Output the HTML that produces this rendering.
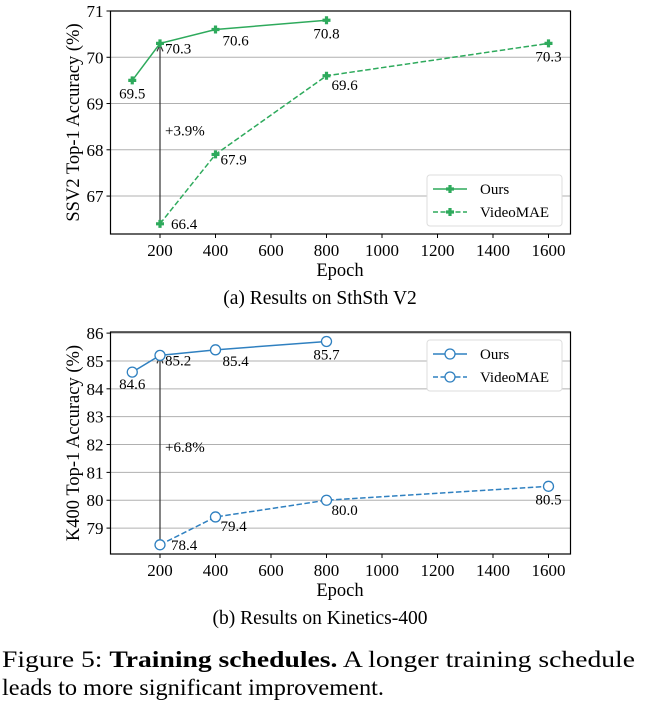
<!DOCTYPE html>
<html><head><meta charset="utf-8"><style>
html,body{margin:0;padding:0;background:#fff;}
svg, svg text{font-family:"Liberation Serif","Times New Roman",Times,serif;}
</style></head><body>
<svg id="fig" width="646" height="702" viewBox="0 0 646 702" font-family="Liberation Serif, Times New Roman, serif"></svg>
<script>
const epochsOurs = [100, 200, 400, 800];
const epochsMae = [200, 400, 800, 1600];
const ssvOurs = [69.5, 70.3, 70.6, 70.8];
const ssvMae = [66.4, 67.9, 69.6, 70.3];
const k400Ours = [84.6, 85.2, 85.4, 85.7];
const k400Mae = [78.4, 79.4, 80.0, 80.5];
const xTicks = [200, 400, 600, 800, 1000, 1200, 1400, 1600];
const ssvTicks = [67, 68, 69, 70, 71];
const k400Ticks = [79, 80, 81, 82, 83, 84, 85, 86];

const NS = "http://www.w3.org/2000/svg";
const svg = document.getElementById('fig');
function mk(tag, attrs, parent, text){
  const e = document.createElementNS(NS, tag);
  for (const k in attrs) e.setAttribute(k, attrs[k]);
  if (tag === 'text') e.setAttribute('font-family', 'Liberation Serif, Times New Roman, serif');
  if (text !== undefined) e.textContent = text;
  (parent || svg).appendChild(e);
  return e;
}
const L = 110.5, R = 570.5;
const xs = v => 104.5 + v * 0.2775;

function plusMarker(g, cx, cy, color){
  const p = mk('path', {d:`M${cx-1.6},${cy-4}h3.2v2.4h2.4v3.2h-2.4v2.4h-3.2v-2.4h-2.4v-3.2h2.4z`, fill:color}, g);
  
  
}
function circleMarker(g, cx, cy, color){
  const c = mk('circle', {cx, cy, r:5, fill:'#fff', stroke:color, 'stroke-width':1.3}, g);
  
  
}

function panel(opt){
  const {top, bottom, ymin, ymax, ticks, ours, mae, color, marker, ylabel, caption, gain, legendY, labelOffsOurs, labelOffsMae, name} = opt;
  const g = mk('g', {});
  
  
  const ys = v => bottom - (v - ymin) / (ymax - ymin) * (bottom - top);
  ticks.forEach(t => {
    const y = ys(t);
    const gl = mk('line', {x1:L, x2:R, y1:y, y2:y, stroke:'#b0b0b0', 'stroke-width':1}, g);
    
    
    mk('line', {x1:L-4, x2:L, y1:y, y2:y, stroke:'#000'}, g);
    const tl = mk('text', {x:L-7, y:y+6, 'text-anchor':'end', 'font-size':17}, g, String(t));
    
    
  });
  xTicks.forEach(t => {
    const x = xs(t);
    mk('line', {x1:x, x2:x, y1:bottom, y2:bottom+4, stroke:'#000'}, g);
    const tl = mk('text', {x:x, y:bottom+22, 'text-anchor':'middle', 'font-size':17}, g, String(t));
    
    
  });
  const ax = xs(200);
  mk('line', {x1:ax, x2:ax, y1:ys(mae[0]), y2:ys(ours[1])+2, stroke:'#333', 'stroke-width':1.2}, g);
  mk('path', {d:`M${ax-3},${ys(ours[1])+8} L${ax},${ys(ours[1])+1} L${ax+3},${ys(ours[1])+8}`, fill:'none', stroke:'#333', 'stroke-width':1.2}, g);
  const gt = mk('text', {x:ax+5, y:(ys(mae[0])+ys(ours[1]))/2+2, 'font-size':15}, g, gain);
  
  
  const lo = mk('polyline', {points: epochsOurs.map((e,i)=>xs(e)+','+ys(ours[i])).join(' '), fill:'none', stroke:color, 'stroke-width':1.5}, g);
  
  
  const lm = mk('polyline', {points: epochsMae.map((e,i)=>xs(e)+','+ys(mae[i])).join(' '), fill:'none', stroke:color, 'stroke-width':1.5, 'stroke-dasharray':'5.5,2.5'}, g);
  
  
  epochsOurs.forEach((e,i)=>{
    marker(g, xs(e), ys(ours[i]), color);
    const o = labelOffsOurs[i];
    const t = mk('text', {x:xs(e)+o[0], y:ys(ours[i])+o[1], 'font-size':15, 'text-anchor':o[2]||'start'}, g, ours[i].toFixed(1));
    
    
  });
  epochsMae.forEach((e,i)=>{
    marker(g, xs(e), ys(mae[i]), color);
    const o = labelOffsMae[i];
    const t = mk('text', {x:xs(e)+o[0], y:ys(mae[i])+o[1], 'font-size':15, 'text-anchor':o[2]||'start'}, g, mae[i].toFixed(1));
    
    
  });
  const fr = mk('rect', {x:L, y:top, width:R-L, height:bottom-top, fill:'none', stroke:'#000', 'stroke-width':1.2}, g);
  
  
  const lg = mk('g', {}, g);
  
  
  mk('rect', {x:427, y:legendY, width:135, height:51, rx:3, fill:'#fff', stroke:'#ddd'}, lg);
  [['Ours', null], ['VideoMAE', '5,2.5']].forEach((it, i)=>{
    const y = legendY + 14 + i*23;
    const le = mk('g', {}, lg);
    
    
    const a = {x1:433, x2:467, y1:y, y2:y, stroke:color, 'stroke-width':1.5};
    if (it[1]) a['stroke-dasharray'] = it[1];
    mk('line', a, le);
    marker(le, 450, y, color);
    mk('text', {x:480, y:y+5, 'font-size':15}, le, it[0]);
  });
  const yl = mk('text', {x:0, y:0, 'font-size':18.5, 'text-anchor':'middle', transform:`translate(79,${(top+bottom)/2}) rotate(-90)`}, g, ylabel);
  
  
  const xl = mk('text', {x:340, y:bottom+42, 'font-size':18.5, 'text-anchor':'middle'}, g, 'Epoch');
  
  
  const cp = mk('text', {x:320, y:bottom+70, 'font-size':19.5, 'text-anchor':'middle'}, g, caption);
  
  
}

panel({name:'ssv2-chart', top:11, bottom:234, ymin:66.18, ymax:71, ticks:ssvTicks, ours:ssvOurs, mae:ssvMae,
  color:'#2eaa5c', marker:plusMarker, ylabel:'SSV2 Top-1 Accuracy (%)', caption:'(a) Results on SthSth V2', gain:'+3.9%', legendY:175,
  labelOffsOurs:[[0,18,'middle'],[5,10],[7,16],[0,18,'middle']], labelOffsMae:[[11,5],[5,10],[5,14],[0,18,'middle']]});
panel({name:'k400-chart', top:332, bottom:554, ymin:78.07, ymax:86.04, ticks:k400Ticks, ours:k400Ours, mae:k400Mae,
  color:'#2f80c0', marker:circleMarker, ylabel:'K400 Top-1 Accuracy (%)', caption:'(b) Results on Kinetics-400', gain:'+6.8%', legendY:340,
  labelOffsOurs:[[0,17,'middle'],[5,10],[7,16],[0,18,'middle']], labelOffsMae:[[11,5],[5,14],[5,15],[0,18,'middle']]});

const c1 = mk('text', {x:2, y:667, 'font-size':23, textLength:633, lengthAdjust:'spacingAndGlyphs'});


mk('tspan', {}, c1, 'Figure 5: ');
mk('tspan', {'font-weight':'bold'}, c1, 'Training schedules.');
mk('tspan', {}, c1, '  A longer training schedule');
const c2 = mk('text', {x:2, y:695, 'font-size':23, textLength:382, lengthAdjust:'spacingAndGlyphs'}, svg, 'leads to more significant improvement.');


</script>
</body></html>
